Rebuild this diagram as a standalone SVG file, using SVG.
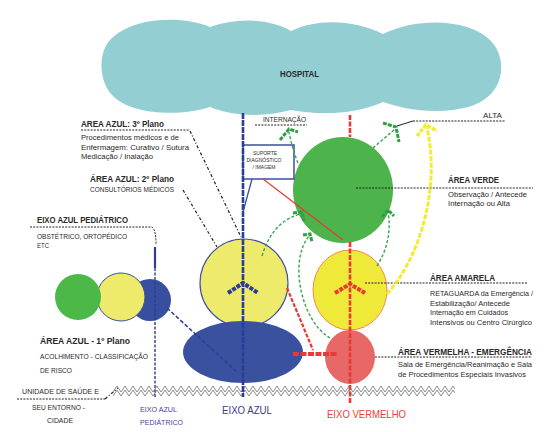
<svg xmlns="http://www.w3.org/2000/svg" width="553" height="432" viewBox="0 0 553 432">
<style>
text{font-family:"Liberation Sans",Arial,sans-serif;fill:#2a2a2a}
.h{font-weight:bold;font-size:8.5px}
.s{font-size:6.8px}
.dot{fill:none;stroke:#222;stroke-width:1;stroke-dasharray:2 1.2}
.lead{fill:none;stroke:#222;stroke-width:1.2;stroke-dasharray:3 2 1 2}
.garr{fill:none;stroke:#36a548;stroke-width:1.4;stroke-dasharray:3 2}
.ghead{fill:none;stroke:#2f9f45;stroke-width:3;stroke-dasharray:4 1.2}
.baxis{fill:none;stroke:#2b3d95;stroke-width:2.6;stroke-dasharray:6 1}
.raxis{fill:none;stroke:#e63a32;stroke-width:2.6;stroke-dasharray:5 1.5}
</style>
<defs>
<pattern id="zz" x="113" y="385" width="8" height="12" patternUnits="userSpaceOnUse">
<polyline points="0,7 4,1 8,7" fill="none" stroke="#8a8a8a" stroke-width="1"/>
<polyline points="0,11 4,5 8,11" fill="none" stroke="#8a8a8a" stroke-width="1"/>
</pattern>
</defs>

<g id="hospital">
<path d="M210 27 C240 17 270 19 291 31 C318 18 355 20 383 34 C420 16 470 20 490 40 C505 55 505 80 490 95 C470 115 420 115 383 102 C355 115 318 115 291 110 C265 117 235 117 210 107 C180 117 130 115 112 95 C98 80 98 50 112 38 C135 16 185 16 210 27 Z" fill="#93cfd2"/>
<text x="280" y="77" font-size="8.5" font-weight="bold" textLength="39" lengthAdjust="spacingAndGlyphs">HOSPITAL</text>
</g>

<g id="ground">
<rect x="113" y="385" width="342" height="12" fill="url(#zz)"/>
</g>

<g id="pediatrico-circles">
<circle cx="150" cy="300" r="21" fill="#384f9f"/>
<circle cx="121" cy="297" r="24" fill="#eeea6c" stroke="#3b4ea0" stroke-width="1"/>
<circle cx="78" cy="297" r="23" fill="#4cb848"/>
</g>

<g id="area-azul-2">
<circle cx="244" cy="283" r="44" fill="#eeea6c" stroke="#3b4ea0" stroke-width="1.2"/>
</g>

<g id="area-azul-1">
<ellipse cx="243" cy="352" rx="60" ry="31" fill="#3a51a0"/>
</g>

<g id="area-verde">
<ellipse cx="343" cy="190" rx="50" ry="53" fill="#4db34b"/>
</g>

<g id="area-amarela">
<ellipse cx="350" cy="290" rx="37" ry="40" fill="#efe93a" stroke="#f08a50" stroke-width="1"/>
</g>

<g id="area-vermelha">
<ellipse cx="350" cy="357" rx="25" ry="27" fill="#e86868"/>
</g>

<g id="suporte">
<rect x="243" y="145" width="51" height="34" fill="#fff" stroke="#3b4ea0" stroke-width="1.5"/>
<text x="265" y="155" font-size="5" text-anchor="middle">SUPORTE</text>
<text x="264" y="162" font-size="5" text-anchor="middle">DIAGNÓSTICO</text>
<text x="264" y="169" font-size="5" text-anchor="middle">/ IMAGEM</text>
</g>

<g id="connectors">
<!-- leaders -->
<path class="dot" d="M81 130 H190"/>
<path class="lead" d="M190 131 L241 237"/>
<path class="lead" d="M183 190 L217 247"/>
<path class="dot" d="M30 227 H152 Q156 230 156 244"/>
<path class="dot" d="M17 399 H105"/>
<path class="lead" d="M105 399 L118 388"/>
<path class="dot" d="M255 125 H307"/>
<path d="M397 126 L413 121" stroke="#222" stroke-width="1" fill="none"/>
<path class="dot" d="M413 121 H505"/>
<path class="dot" d="M356 188 H533"/>
<path class="dot" d="M365 283 H528"/>
<path class="dot" d="M375 357 H532"/>
<!-- axes -->
<path class="baxis" d="M243 113 V397"/>
<path d="M155 247 V268" stroke="#2b3d95" stroke-width="2.2" fill="none"/>
<path d="M155 268 V398" stroke="#2b3d95" stroke-width="1.4" stroke-dasharray="3 1.5" fill="none"/>
<path d="M167 308 L238 373" stroke="#2b3d95" stroke-width="1.5" stroke-dasharray="4 2" fill="none"/>
<path class="raxis" d="M350 115 V137"/>
<path class="raxis" d="M350 242 V403"/>
<!-- suporte links -->
<path d="M252 179 L243 212" stroke="#3b4ea0" stroke-width="1.3" fill="none"/>
<path d="M263 179 L343 240" stroke="#e63a32" stroke-width="1.2" fill="none"/>
<!-- red links -->
<path d="M287 288 L313 350" stroke="#e63a32" stroke-width="2.2" stroke-dasharray="4 1.5" fill="none"/>
<path d="M293 354 H337" stroke="#e63a32" stroke-width="4" stroke-dasharray="6 1.5" fill="none"/>
<!-- chevrons -->
<polyline points="228,293 243,283 258,293" fill="none" stroke="#2b3d95" stroke-width="4" stroke-dasharray="4 1.2"/>
<polyline points="335,293 350,284 365,293" fill="none" stroke="#e63a32" stroke-width="4" stroke-dasharray="4 1.2"/>
<!-- green arrows -->
<path class="garr" d="M298 163 Q292 148 289 132"/>
<polyline class="ghead" points="280,140 289,129 298,132"/>
<path class="garr" d="M373 148 L395 129"/>
<polyline class="ghead" points="383,123 396,127 399,142"/>
<path class="garr" d="M262 256 Q272 222 300 214"/>
<polyline class="ghead" points="293,213 302,212 304,221"/>
<path class="garr" d="M330 338 C302 322 288 262 309 236"/>
<polyline class="ghead" points="303,235 310,234 312,242"/>
<path class="garr" d="M377 266 Q393 240 388 212"/>
<polyline class="ghead" points="382,217 388,210 394,216"/>
<!-- yellow arrow -->
<path d="M387 294 C422 255 440 185 427 128" fill="none" stroke="#f0ec34" stroke-width="3" stroke-dasharray="5 1.5"/>
<polyline points="417,136 426,125 437,131" fill="none" stroke="#f0ec34" stroke-width="3.5" stroke-dasharray="4 1.2"/>
</g>

<g id="labels">
<text x="263" y="122" font-size="7" textLength="43" lengthAdjust="spacingAndGlyphs">INTERNAÇÃO</text>
<text x="483" y="118" font-size="7" textLength="19" lengthAdjust="spacingAndGlyphs">ALTA</text>

<text class="h" x="81" y="127" textLength="83" lengthAdjust="spacingAndGlyphs">AREA AZUL: 3º Plano</text>
<text class="s" x="81" y="140" textLength="98" lengthAdjust="spacingAndGlyphs">Procedimentos médicos e de</text>
<text class="s" x="81" y="149.5" textLength="108" lengthAdjust="spacingAndGlyphs">Enfermagem: Curativo / Sutura</text>
<text class="s" x="81" y="159" textLength="72" lengthAdjust="spacingAndGlyphs">Medicação / Inalação</text>

<text class="h" x="90" y="182" textLength="84" lengthAdjust="spacingAndGlyphs">ÁREA AZUL: 2º Plano</text>
<text class="s" x="90" y="192" textLength="84" lengthAdjust="spacingAndGlyphs">CONSULTÓRIOS MÉDICOS</text>

<text class="h" x="37" y="223" textLength="91" lengthAdjust="spacingAndGlyphs">EIXO AZUL PEDIÁTRICO</text>
<text class="s" x="37" y="239" textLength="90" lengthAdjust="spacingAndGlyphs">OBSTÉTRICO, ORTOPÉDICO</text>
<text class="s" x="37" y="248" textLength="12" lengthAdjust="spacingAndGlyphs">ETC</text>

<text class="h" x="40" y="344" textLength="90" lengthAdjust="spacingAndGlyphs">ÁREA AZUL - 1º Plano</text>
<text class="s" x="40" y="359" textLength="108" lengthAdjust="spacingAndGlyphs">ACOLHIMENTO - CLASSIFICAÇÃO</text>
<text class="s" x="40" y="373" textLength="32" lengthAdjust="spacingAndGlyphs">DE RISCO</text>

<text class="s" x="22" y="394" textLength="77" lengthAdjust="spacingAndGlyphs">UNIDADE DE SAÚDE E</text>
<text class="s" x="32" y="410" textLength="53" lengthAdjust="spacingAndGlyphs">SEU ENTORNO -</text>
<text class="s" x="47" y="423" textLength="26" lengthAdjust="spacingAndGlyphs">CIDADE</text>

<text x="140" y="412" font-size="6.5" style="fill:#4a3fa0" textLength="37" lengthAdjust="spacingAndGlyphs">EIXO AZUL</text>
<text x="140" y="425" font-size="6.5" style="fill:#4a3fa0" textLength="43" lengthAdjust="spacingAndGlyphs">PEDIÁTRICO</text>
<text x="222" y="414" font-size="10.5" style="fill:#3a3a90" textLength="50" lengthAdjust="spacingAndGlyphs">EIXO AZUL</text>
<text x="327" y="418" font-size="10.5" style="fill:#e8403a" textLength="79" lengthAdjust="spacingAndGlyphs">EIXO VERMELHO</text>

<text class="h" x="448" y="183" textLength="51" lengthAdjust="spacingAndGlyphs">ÁREA VERDE</text>
<text class="s" x="448" y="197" textLength="79" lengthAdjust="spacingAndGlyphs">Observação / Antecede</text>
<text class="s" x="448" y="206" textLength="62" lengthAdjust="spacingAndGlyphs">Internação ou Alta</text>

<text class="h" x="430" y="281" textLength="65" lengthAdjust="spacingAndGlyphs">ÁREA AMARELA</text>
<text class="s" x="430" y="296" textLength="103" lengthAdjust="spacingAndGlyphs">RETAGUARDA da Emergência /</text>
<text class="s" x="430" y="305.5" textLength="80" lengthAdjust="spacingAndGlyphs">Estabilização/ Antecede</text>
<text class="s" x="430" y="315" textLength="78" lengthAdjust="spacingAndGlyphs">Internação em Cuidados</text>
<text class="s" x="430" y="324.5" textLength="102" lengthAdjust="spacingAndGlyphs">Intensivos ou Centro Cirúrgico</text>

<text class="h" x="398" y="355" textLength="134" lengthAdjust="spacingAndGlyphs">ÁREA VERMELHA - EMERGÊNCIA</text>
<text class="s" x="398" y="367" textLength="134" lengthAdjust="spacingAndGlyphs">Sala de Emergência/Reanimação e Sala</text>
<text class="s" x="398" y="377" textLength="128" lengthAdjust="spacingAndGlyphs">de Procedimentos Especiais Invasivos</text>
</g>
</svg>
